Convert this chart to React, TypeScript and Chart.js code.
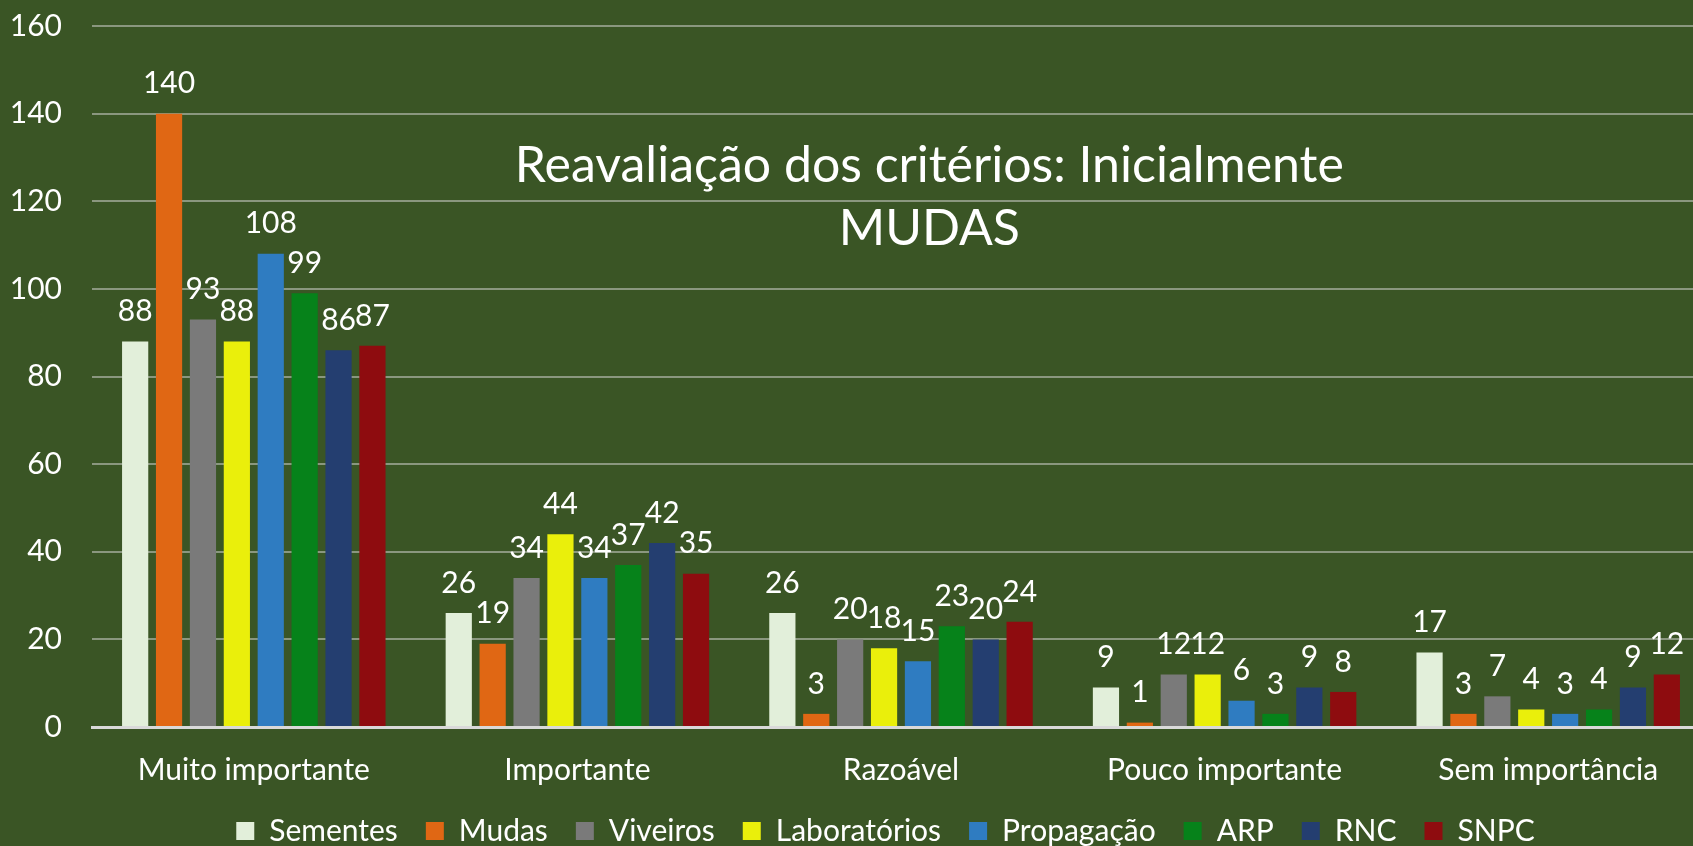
import React, { useEffect, useRef } from "react";
import { Chart, registerables } from "chart.js";

Chart.register(...registerables);

// ---- data ----
const categories = ["Muito importante", "Importante", "Razoável", "Pouco importante", "Sem importância"];
const seriesNames = ["Sementes", "Mudas", "Viveiros", "Laboratórios", "Propagação", "ARP", "RNC", "SNPC"];
const sementes = [88, 26, 26, 9, 17];
const mudas = [140, 19, 3, 1, 3];
const viveiros = [93, 34, 20, 12, 7];
const laboratorios = [88, 44, 18, 12, 4];
const propagacao = [108, 34, 15, 6, 3];
const arp = [99, 37, 23, 3, 4];
const rnc = [86, 42, 20, 9, 9];
const snpc = [87, 35, 24, 8, 12];
const seriesValues = [sementes, mudas, viveiros, laboratorios, propagacao, arp, rnc, snpc];
const titleLines = ["Reavaliação dos critérios: Inicialmente", "MUDAS"];
const yMin = 0;
const yMax = 160;
const yStep = 20;

// ---- styles ----
const seriesColors = ["#E2EFDA", "#E06714", "#7A7A7A", "#EAEF0B", "#2F7CC1", "#06821A", "#243E70", "#8E0C0F"];
const BG = "#3A5525";
const FONT = "Lato";
const W = 1744;
const H = 881;
const LEGEND_PAD = 28;

const titlePlugin = {
  id: "overlayTitle",
  afterDatasetsDraw(chart: any) {
    const { ctx, chartArea } = chart;
    ctx.save();
    ctx.fillStyle = "#FFFFFF";
    ctx.font = `50px ${FONT}`;
    ctx.textAlign = "center";
    ctx.textBaseline = "alphabetic";
    const cx = chartArea.left + chartArea.width * 0.5175;
    ctx.fillText(titleLines[0], cx, chartArea.top + 156);
    ctx.fillText(titleLines[1], cx, chartArea.top + 219);
    ctx.restore();
  },
};

const valueLabelPlugin = {
  id: "valueLabels",
  afterDatasetsDraw(chart: any) {
    const { ctx } = chart;
    ctx.save();
    ctx.fillStyle = "#FFFFFF";
    ctx.font = `30px ${FONT}`;
    ctx.textAlign = "center";
    ctx.textBaseline = "middle";
    chart.data.datasets.forEach((ds: any, di: number) => {
      const meta = chart.getDatasetMeta(di);
      meta.data.forEach((el: any, i: number) => {
        ctx.fillText(String(ds.data[i]), el.x, el.y - 30);
      });
    });
    ctx.restore();
  },
};

// place the legend row just under the category labels, centred like the original
const legendPlacePlugin = {
  id: "legendPlace",
  afterLayout(chart: any) {
    const lg = chart.legend;
    if (!lg) return;
    const dy = chart.chartArea.bottom + 89 - LEGEND_PAD - lg.top;
    lg.top += dy;
    lg.bottom += dy;
    lg.left += 25.5;
    lg.right += 25.5;
  },
};

export default function App() {
  const ref = useRef<HTMLCanvasElement | null>(null);

  useEffect(() => {
    document.documentElement.style.overflow = "hidden";
    document.body.style.overflow = "hidden";
    document.body.style.background = BG;
    const canvas = ref.current;
    if (!canvas) return;
    const chart = new Chart(canvas, {
      type: "bar",
      data: {
        labels: categories,
        datasets: seriesNames.map((name, i) => ({
          label: name,
          data: seriesValues[i],
          backgroundColor: seriesColors[i],
          borderWidth: 0,
          categoryPercentage: 0.838,
          barPercentage: 0.773,
        })),
      },
      options: {
        responsive: false,
        animation: false,
        layout: { padding: { top: 26, left: 10, right: 34, bottom: 0 } },
        plugins: {
          title: { display: false },
          tooltip: { enabled: false },
          legend: {
            position: "bottom",
            labels: {
              color: "#FFFFFF",
              font: { family: FONT, size: 30 },
              boxWidth: 18,
              boxHeight: 18,
              padding: LEGEND_PAD,
            },
          },
        },
        scales: {
          x: {
            grid: { display: false, drawTicks: false },
            border: { display: true, color: "#D9D9D9", width: 3 },
            afterFit: (scale: any) => {
              scale.paddingLeft = 0;
              scale.paddingRight = 0;
            },
            ticks: {
              color: "#FFFFFF",
              font: { family: FONT, size: 30 },
              padding: 25,
              maxRotation: 0,
              autoSkip: false,
            },
          },
          y: {
            min: yMin,
            max: yMax,
            afterFit: (scale: any) => {
              scale.paddingTop = 0;
              scale.paddingBottom = 0;
              scale.width = 82;
            },
            ticks: {
              stepSize: yStep,
              color: "#FFFFFF",
              font: { family: FONT, size: 30 },
              padding: 30,
            },
            grid: { color: "rgba(217,217,217,0.5)", lineWidth: 2, drawTicks: false },
            border: { display: false },
          },
        },
      },
      plugins: [titlePlugin, valueLabelPlugin, legendPlacePlugin],
    } as any);
    return () => chart.destroy();
  }, []);

  return (
    <div style={{ position: "fixed", left: 0, top: 0, width: W, height: H, background: BG }}>
      <canvas ref={ref} width={W} height={H} style={{ display: "block", width: W, height: H }} />
    </div>
  );
}
